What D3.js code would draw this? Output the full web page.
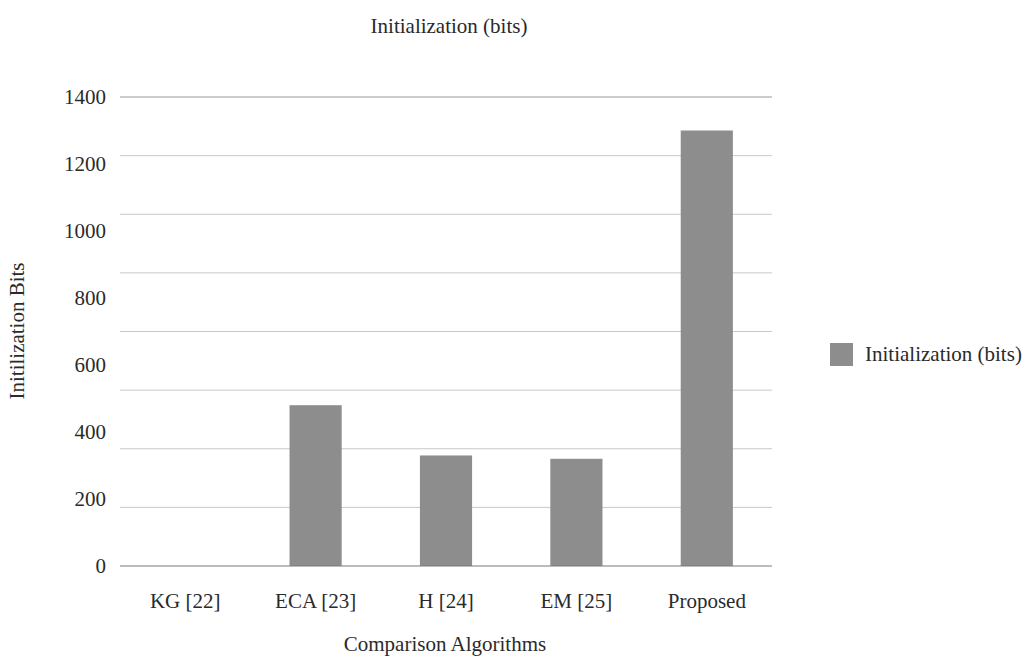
<!DOCTYPE html>
<html>
<head>
<meta charset="utf-8">
<script src="https://cdn.jsdelivr.net/npm/d3@7"></script>
<style>
  body { margin: 0; background: #fff; }
  svg { display: block; }
  text { font-family: "Liberation Serif", "DejaVu Serif", serif; fill: #2a2a2a; }
</style>
</head>
<body>
<svg id="chart" width="1027" height="656"></svg>
<script>
const categories = ["KG [22]", "ECA [23]", "H [24]", "EM [25]", "Proposed"];
const values = [0, 480, 330, 320, 1300];
const yTicks = [0, 200, 400, 600, 800, 1000, 1200, 1400];
const gridValues = [175, 350, 525, 700, 875, 1050, 1225, 1400];
const seriesName = "Initialization (bits)";

const svg = d3.select("#chart");
const margin = { left: 120, right: 255, top: 97, bottom: 90 };
const W = 1027, H = 656;

const x = d3.scaleBand().domain(categories)
  .range([margin.left, W - margin.right]).paddingInner(0.6).paddingOuter(0.3);
const y = d3.scaleLinear().domain([0, 1400]).range([H - margin.bottom, margin.top]);

// gridlines
svg.append("g").selectAll("line").data(gridValues).join("line")
  .attr("x1", margin.left).attr("x2", W - margin.right)
  .attr("y1", d => y(d)).attr("y2", d => y(d))
  .attr("stroke", d => d === 1400 ? "#999" : "#c8c8c8")
  .attr("stroke-width", 1);

// bars
svg.append("g").selectAll("rect").data(values).join("rect")
  .attr("x", (d, i) => x(categories[i]))
  .attr("width", x.bandwidth())
  .attr("y", d => y(d))
  .attr("height", d => y(0) - y(d))
  .attr("fill", "#8d8d8d");

// baseline
svg.append("line")
  .attr("x1", margin.left).attr("x2", W - margin.right)
  .attr("y1", y(0)).attr("y2", y(0))
  .attr("stroke", "#7a7a7a").attr("stroke-width", 1.2);

// y axis labels
const yAxis = d3.axisLeft(y).tickValues(yTicks).tickSize(0).tickPadding(14).tickFormat(d3.format("d"));
const gy = svg.append("g").attr("transform", `translate(${margin.left},0)`).call(yAxis);
gy.select(".domain").remove();
gy.selectAll("text").style("font-size", "21px").attr("fill", "#2a2a2a")
  .style("font-family", '"Liberation Serif", serif');

// x axis labels
const xAxis = d3.axisBottom(x).tickSize(0).tickPadding(27);
const gx = svg.append("g").attr("transform", `translate(0,${y(0)})`).call(xAxis);
gx.select(".domain").remove();
gx.selectAll("text").style("font-size", "21px").attr("fill", "#2a2a2a")
  .style("font-family", '"Liberation Serif", serif');

// title
svg.append("text").attr("x", 449).attr("y", 33).attr("text-anchor", "middle")
  .style("font-size", "21px").text(seriesName);

// x title
svg.append("text").attr("x", 445).attr("y", 651).attr("text-anchor", "middle")
  .style("font-size", "21px").text("Comparison Algorithms");

// y title
svg.append("text").attr("transform", "translate(24,331) rotate(-90)")
  .attr("text-anchor", "middle").style("font-size", "21px").text("Initilization Bits");

// legend
const lg = svg.append("g").attr("transform", "translate(830,343)");
lg.append("rect").attr("width", 23).attr("height", 23).attr("fill", "#8d8d8d");
lg.append("text").attr("x", 35).attr("y", 18).style("font-size", "21px").text(seriesName);
</script>
</body>
</html>
